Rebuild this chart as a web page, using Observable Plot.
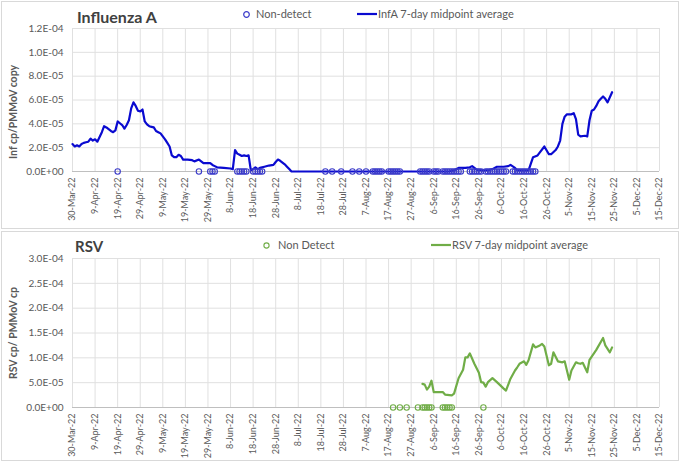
<!DOCTYPE html>
<html><head><meta charset="utf-8">
<script src="https://cdn.jsdelivr.net/npm/d3@7"></script>
<script src="https://cdn.jsdelivr.net/npm/@observablehq/plot@0.6"></script>
<style>
html,body{margin:0;padding:0;background:#fff;}
body{width:680px;height:463px;position:relative;overflow:hidden;font-family:Lato,"Liberation Sans",sans-serif;}
.panel{position:absolute;left:1px;width:678px;border:1px solid #d9d9d9;box-sizing:border-box}
.chart{position:absolute;left:0}
.title{position:absolute;font-weight:bold;color:#404040;line-height:1}
.leg{position:absolute;font-size:11px;line-height:12px;height:12px;color:#595959;display:flex;align-items:center;white-space:nowrap}
.leg svg{display:block;margin-right:3px}
</style></head><body>
<div class="panel" style="top:1px;height:228px"></div>
<div class="panel" style="top:231px;height:230px"></div>
<div id="top" class="chart" style="top:0"></div>
<div id="bot" class="chart" style="top:231px"></div>
<div class="title" style="left:77px;top:9px;font-size:16px">Influenza A</div>
<div class="leg" style="left:242px;top:8px"><svg width="9" height="9"><circle cx="4.5" cy="4.5" r="2.8" fill="none" stroke="#3b3bc9" stroke-width="1.2"/></svg><span style="margin-left:2px">Non-detect</span></div>
<div class="leg" style="left:357px;top:8px"><svg width="20" height="6"><line x1="0" x2="20" y1="3" y2="3" stroke="#0a0ad0" stroke-width="2.2"/></svg><span style="margin-left:-2px">InfA 7-day midpoint average</span></div>
<div class="title" style="left:75px;top:239px;font-size:15px">RSV</div>
<div class="leg" style="left:262px;top:239px"><svg width="9" height="9"><circle cx="4.5" cy="4.5" r="2.6" fill="none" stroke="#70ad47" stroke-width="1.1"/></svg><span style="margin-left:4px">Non Detect</span></div>
<div class="leg" style="left:431px;top:239px"><svg width="20" height="6"><line x1="0" x2="20" y1="3" y2="3" stroke="#70ad47" stroke-width="2.2"/></svg><span style="margin-left:-2px">RSV 7-day midpoint average</span></div>
<script>
// ---- data (values in units of 1E-05 cp/PMMoV copy) ----
const xTickDates = ["2022-03-30","2022-04-09","2022-04-19","2022-04-29","2022-05-09","2022-05-19","2022-05-29","2022-06-08","2022-06-18","2022-06-28","2022-07-08","2022-07-18","2022-07-28","2022-08-07","2022-08-17","2022-08-27","2022-09-06","2022-09-16","2022-09-26","2022-10-06","2022-10-16","2022-10-26","2022-11-05","2022-11-15","2022-11-25","2022-12-05","2022-12-15"];
const fluTicks = [0, 2e-5, 4e-5, 6e-5, 8e-5, 1e-4, 1.2e-4];
const rsvTicks = [0, 5e-5, 1e-4, 1.5e-4, 2e-4, 2.5e-4, 3e-4];

const fluDates = ["2022-03-30","2022-03-31","2022-04-01","2022-04-02","2022-04-03","2022-04-04","2022-04-05","2022-04-06","2022-04-07","2022-04-08","2022-04-09","2022-04-10","2022-04-11","2022-04-12","2022-04-13","2022-04-14","2022-04-15","2022-04-16","2022-04-17","2022-04-18","2022-04-19","2022-04-20","2022-04-21","2022-04-22","2022-04-23","2022-04-24","2022-04-25","2022-04-26","2022-04-27","2022-04-28","2022-04-29","2022-04-30","2022-05-01","2022-05-02","2022-05-03","2022-05-04","2022-05-05","2022-05-06","2022-05-07","2022-05-08","2022-05-09","2022-05-10","2022-05-11","2022-05-12","2022-05-13","2022-05-14","2022-05-15","2022-05-16","2022-05-17","2022-05-18","2022-05-20","2022-05-22","2022-05-23","2022-05-25","2022-05-26","2022-05-27","2022-05-30","2022-05-31","2022-06-01","2022-06-02","2022-06-05","2022-06-08","2022-06-09","2022-06-10","2022-06-11","2022-06-12","2022-06-13","2022-06-14","2022-06-15","2022-06-16","2022-06-17","2022-06-18","2022-06-19","2022-06-20","2022-06-21","2022-06-23","2022-06-25","2022-06-27","2022-06-28","2022-06-29","2022-06-30","2022-07-01","2022-07-02","2022-07-03","2022-07-04","2022-07-05","2022-09-13","2022-09-15","2022-09-17","2022-09-20","2022-09-22","2022-09-23","2022-09-24","2022-09-25","2022-09-27","2022-09-30","2022-10-02","2022-10-04","2022-10-07","2022-10-09","2022-10-10","2022-10-12","2022-10-13","2022-10-18","2022-10-20","2022-10-22","2022-10-23","2022-10-25","2022-10-27","2022-10-28","2022-10-30","2022-10-31","2022-11-01","2022-11-02","2022-11-03","2022-11-04","2022-11-06","2022-11-07","2022-11-08","2022-11-09","2022-11-10","2022-11-12","2022-11-13","2022-11-14","2022-11-15","2022-11-16","2022-11-17","2022-11-18","2022-11-19","2022-11-20","2022-11-21","2022-11-22","2022-11-24"];
const fluValues = [2.3,2.1,2.2,2.1,2.3,2.4,2.45,2.5,2.75,2.6,2.7,2.5,2.9,3.3,3.8,3.7,3.55,3.4,3.3,3.45,4.2,4.05,3.9,3.6,3.9,4.3,5.3,5.8,5.5,5.1,5.05,5.2,4.2,3.95,3.8,3.75,3.7,3.4,3.3,3.2,2.95,2.7,2.4,2.1,1.35,1.2,1.2,1.4,1.3,1.0,1.0,0.95,0.85,1.0,0.85,0.7,0.7,0.55,0.45,0.35,0.3,0.25,0.2,1.8,1.5,1.4,1.3,1.35,1.3,1.35,0.1,0.2,0.35,0.2,0.3,0.4,0.5,0.55,0.8,1.0,0.9,0.75,0.6,0.4,0.2,0,0,0.1,0.3,0.3,0.35,0.45,0.3,0.15,0.1,0.1,0.2,0.4,0.4,0.45,0.55,0.3,0.1,0.1,1.2,1.35,1.6,2.1,1.45,1.45,1.8,2.1,2.6,4.0,4.6,4.8,4.8,4.9,4.4,3.1,2.95,3.0,2.95,4.3,5.1,5.2,5.5,5.9,6.1,6.3,6.1,5.8,6.65];
const fluNonDetect = ["2022-04-19","2022-05-25","2022-05-30","2022-05-31","2022-06-01","2022-06-11","2022-06-12","2022-06-13","2022-06-14","2022-06-15","2022-06-18","2022-06-19","2022-06-20","2022-06-21","2022-06-22","2022-07-20","2022-07-23","2022-07-27","2022-08-01","2022-08-04","2022-08-07","2022-08-10","2022-08-11","2022-08-12","2022-08-13","2022-08-14","2022-08-17","2022-08-18","2022-08-19","2022-08-20","2022-08-21","2022-08-22","2022-08-31","2022-09-01","2022-09-02","2022-09-03","2022-09-04","2022-09-06","2022-09-07","2022-09-08","2022-09-10","2022-09-11","2022-09-12","2022-09-13","2022-09-14","2022-09-15","2022-09-16","2022-09-17","2022-09-18","2022-09-22","2022-09-23","2022-09-24","2022-09-25","2022-09-26","2022-09-27","2022-09-29","2022-09-30","2022-10-01","2022-10-02","2022-10-03","2022-10-04","2022-10-05","2022-10-06","2022-10-07","2022-10-08","2022-10-11","2022-10-12","2022-10-13","2022-10-14","2022-10-15","2022-10-16","2022-10-17","2022-10-18","2022-10-19","2022-10-20","2022-10-21"];

const rsvDates = ["2022-09-01","2022-09-02","2022-09-03","2022-09-04","2022-09-05","2022-09-06","2022-09-10","2022-09-11","2022-09-14","2022-09-15","2022-09-17","2022-09-19","2022-09-20","2022-09-21","2022-09-22","2022-09-24","2022-09-26","2022-09-27","2022-09-28","2022-09-29","2022-09-30","2022-10-02","2022-10-04","2022-10-07","2022-10-08","2022-10-10","2022-10-12","2022-10-13","2022-10-14","2022-10-16","2022-10-17","2022-10-18","2022-10-20","2022-10-21","2022-10-23","2022-10-24","2022-10-25","2022-10-27","2022-10-28","2022-10-29","2022-10-31","2022-11-02","2022-11-03","2022-11-05","2022-11-06","2022-11-08","2022-11-09","2022-11-10","2022-11-11","2022-11-13","2022-11-14","2022-11-17","2022-11-20","2022-11-21","2022-11-23","2022-11-24"];
const rsvValues = [4.75,4.6,3.6,4.2,5.4,3.1,3.1,2.6,2.45,2.8,5.9,7.6,10.1,10.1,10.9,8.8,7.0,5.1,5.0,4.2,5.1,5.9,5.1,3.8,3.4,5.8,7.45,8.1,8.8,9.3,8.6,9.5,12.7,12.1,12.5,12.8,12.3,8.5,8.8,11.1,9.3,9.1,9.3,5.6,7.45,9.1,8.9,8.8,9.0,7.1,9.6,11.6,14.0,12.5,11.1,12.1];
const rsvNonDetect = ["2022-08-19","2022-08-22","2022-08-25","2022-08-30","2022-09-01","2022-09-02","2022-09-03","2022-09-04","2022-09-05","2022-09-10","2022-09-11","2022-09-12","2022-09-13","2022-09-14","2022-09-28"];

// ---- build ----
const unit = 1e-5;
const parse = d3.utcParse("%Y-%m-%d");
const xTicks = xTickDates.map(parse);
const fluSeries = fluDates.map((d, i) => ({date: parse(d), value: fluValues[i] * unit}));
const rsvSeries = rsvDates.map((d, i) => ({date: parse(d), value: rsvValues[i] * unit}));
const fluND = fluNonDetect.map(d => ({date: parse(d), value: 0}));
const rsvND = rsvNonDetect.map(d => ({date: parse(d), value: 0}));
const fmtDate = d3.utcFormat("%-d-%b-%y");
function sci(v) {
  const [m, e] = v.toExponential(1).split("e");
  const sign = e[0] === "-" ? "-" : "+";
  return m + "E" + sign + String(Math.abs(+e)).padStart(2, "0");
}

function chart({height, marginTop, marginBottom, yTicks, series, nd, lineColor, dotColor, yLabel, labelDy}) {
  return Plot.plot({
    width: 680, height, marginTop, marginBottom, marginLeft: 72, marginRight: 21,
    style: {fontFamily: "Lato, 'Liberation Sans', sans-serif", color: "#595959", background: "transparent", overflow: "visible"},
    x: {type: "utc", domain: [xTicks[0], xTicks[xTicks.length - 1]]},
    y: {domain: [yTicks[0], yTicks[yTicks.length - 1]]},
    marks: [
      Plot.ruleX(xTicks, {stroke: "#e0e0e0", strokeWidth: 1}),
      Plot.ruleY(yTicks, {stroke: "#e0e0e0", strokeWidth: 1}),
      Plot.ruleY([0], {stroke: "#bfbfbf", strokeWidth: 1}),
      Plot.axisX({ticks: xTicks, tickFormat: fmtDate, tickRotate: -90, tickSize: 0, tickPadding: 6, fontSize: 9, label: null}),
      Plot.axisY({ticks: yTicks, tickFormat: sci, tickSize: 0, tickPadding: 9, fontSize: 10, label: null}),
      Plot.text([yLabel], {frameAnchor: "left", textAnchor: "middle", lineAnchor: "middle", dx: -59, dy: labelDy, rotate: -90, fontSize: 10.5, fontWeight: "bold", fill: "#595959"}),
      Plot.line(series, {x: "date", y: "value", stroke: lineColor, strokeWidth: 2.2, curve: "linear"}),
      Plot.dot(nd, {x: "date", y: "value", r: 2.7, stroke: dotColor, strokeWidth: 1.1, fill: "none"})
    ]
  });
}

document.getElementById("top").append(chart({
  height: 228, marginTop: 28, marginBottom: 57, yTicks: fluTicks, series: fluSeries, nd: fluND,
  lineColor: "#0a0ad0", dotColor: "#3b3bc9", yLabel: "Inf cp/PMMoV copy", labelDy: 12
}));
document.getElementById("bot").append(chart({
  height: 232, marginTop: 27, marginBottom: 56, yTicks: rsvTicks, series: rsvSeries, nd: rsvND,
  lineColor: "#70ad47", dotColor: "#70ad47", yLabel: "RSV cp/ PMMoV cp", labelDy: 0
}));
</script>
</body></html>
